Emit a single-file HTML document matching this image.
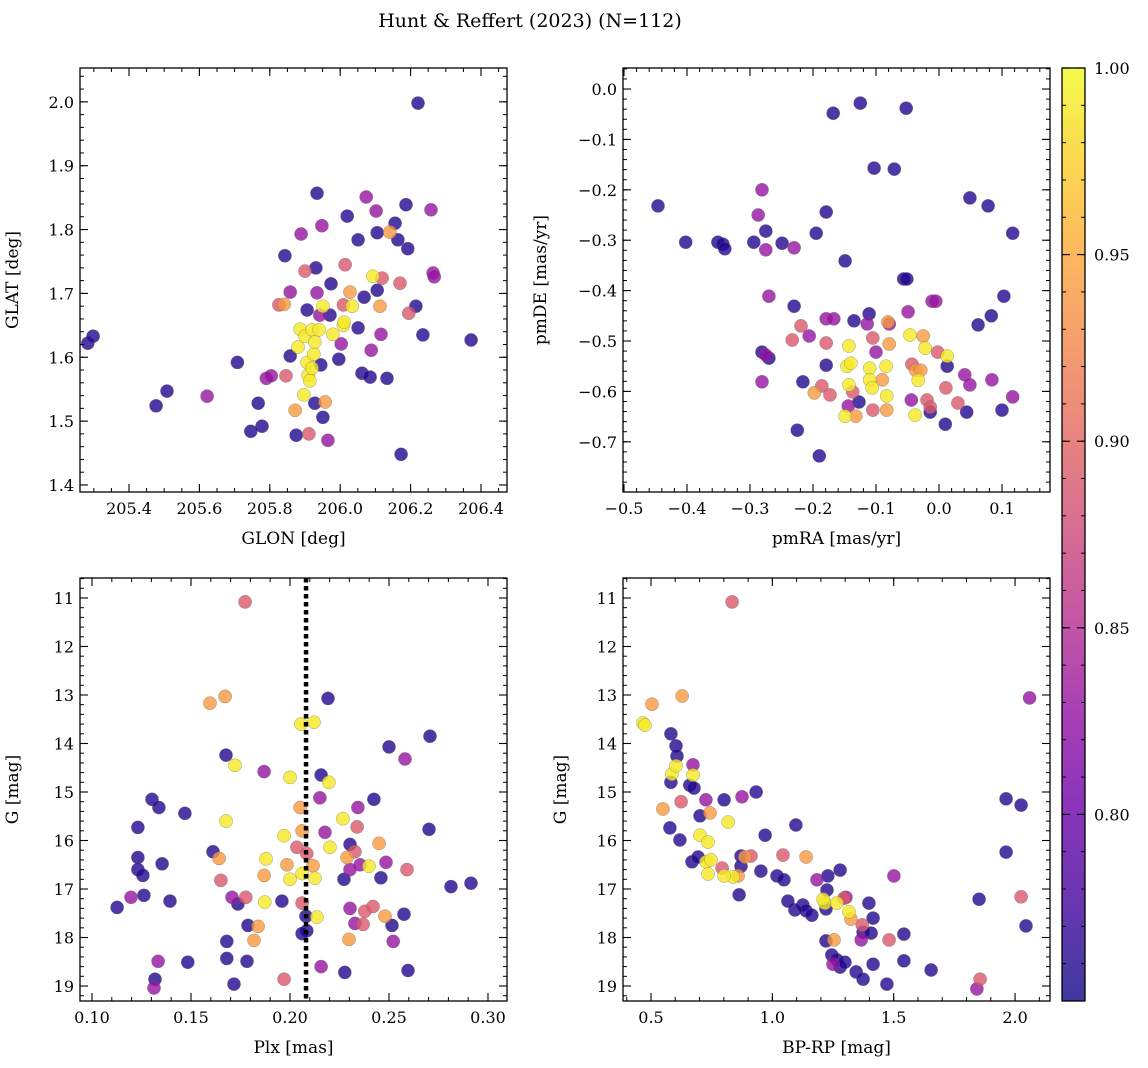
<!DOCTYPE html>
<html><head><meta charset="utf-8"><title>Hunt & Reffert (2023)</title>
<style>
html,body{margin:0;padding:0;background:#fff;}
svg{display:block;font-family:"DejaVu Serif","Liberation Serif",serif;}
</style></head>
<body>
<svg id="fig" width="1148" height="1068" viewBox="0 0 1148 1068" xmlns="http://www.w3.org/2000/svg">
<defs>
<linearGradient id="cbgrad" x1="0" y1="1" x2="0" y2="0">
<stop offset="0" stop-color="#0d0887"/><stop offset="0.1" stop-color="#41049d"/><stop offset="0.2" stop-color="#6a00a8"/><stop offset="0.3" stop-color="#8f0da4"/><stop offset="0.4" stop-color="#b12a90"/><stop offset="0.5" stop-color="#cc4778"/><stop offset="0.6" stop-color="#e16462"/><stop offset="0.7" stop-color="#f2844b"/><stop offset="0.8" stop-color="#fca636"/><stop offset="0.9" stop-color="#fcce25"/><stop offset="1" stop-color="#f0f921"/>
</linearGradient>
</defs>
<text x="530" y="27" text-anchor="middle" font-size="19">Hunt &amp; Reffert (2023) (N=112)</text>
</svg>
<script>
// Panel 1: GLON vs GLAT
const glon1=[206.221,205.283,205.298,205.477,205.508,205.622,205.708,205.746,205.767,205.778,205.790,205.804,205.843,205.826,205.841,205.846,205.858,205.858,205.872,205.875,205.880,205.886,205.889,205.897,205.900,205.906,205.900,205.906,205.909,205.914,205.920,205.911,205.920,205.925,205.928,205.928,205.931,205.934,205.934,205.940,205.942,205.945,205.951,205.957,205.951,205.965,205.948,205.971,205.974,205.979,205.996,206.009,206.011,206.020,206.003,206.009,206.014,206.028,206.034,206.051,206.051,206.062,206.068,206.074,206.085,206.088,206.093,206.102,206.105,206.105,206.113,206.116,206.119,206.133,206.141,206.156,206.164,206.173,206.170,206.187,206.192,206.195,206.215,206.235,206.258,206.264,206.267,206.372];
const glat1=[1.998,1.622,1.633,1.524,1.547,1.539,1.592,1.484,1.528,1.492,1.567,1.571,1.759,1.682,1.683,1.571,1.702,1.602,1.517,1.478,1.616,1.644,1.793,1.541,1.735,1.674,1.633,1.592,1.572,1.563,1.583,1.480,1.643,1.605,1.624,1.528,1.740,1.857,1.701,1.643,1.666,1.588,1.506,1.530,1.680,1.470,1.806,1.666,1.715,1.636,1.597,1.650,1.655,1.821,1.621,1.682,1.745,1.702,1.680,1.784,1.646,1.575,1.694,1.851,1.569,1.611,1.727,1.829,1.705,1.795,1.680,1.636,1.724,1.567,1.796,1.810,1.784,1.448,1.716,1.839,1.770,1.669,1.680,1.635,1.831,1.732,1.726,1.627];
const prob1=[.76,.76,.76,.76,.76,.83,.76,.76,.76,.76,.83,.83,.76,.89,.94,.89,.83,.76,.94,.76,.99,.99,.83,.99,.89,.76,.99,.99,.99,.99,.99,.89,.99,.99,.99,.76,.76,.76,.83,.99,.83,.76,.76,.94,.99,.83,.83,.76,.76,.99,.76,.99,.99,.76,.83,.89,.89,.94,.99,.76,.76,.76,.76,.83,.76,.83,.99,.83,.76,.76,.94,.83,.89,.76,.94,.76,.76,.76,.89,.76,.76,.89,.76,.76,.83,.83,.83,.76];
// Panel 2: pmRA vs pmDE
const pmra2=[-0.446,-0.402,-0.351,-0.343,-0.340,-0.294,-0.287,-0.281,-0.275,-0.275,-0.270,-0.249,-0.230,-0.230,-0.281,-0.275,-0.270,-0.281,-0.233,-0.219,-0.216,-0.206,-0.198,-0.225,-0.195,-0.190,-0.179,-0.179,-0.179,-0.179,-0.186,-0.173,-0.168,-0.167,-0.149,-0.146,-0.144,-0.143,-0.143,-0.149,-0.140,-0.137,-0.132,-0.127,-0.135,-0.125,-0.114,-0.111,-0.110,-0.110,-0.106,-0.103,-0.105,-0.100,-0.105,-0.081,-0.079,-0.083,-0.090,-0.084,-0.083,-0.071,-0.079,-0.052,-0.056,-0.051,-0.049,-0.046,-0.043,-0.044,-0.038,-0.033,-0.037,-0.029,-0.025,-0.022,-0.019,-0.014,-0.011,-0.005,-0.014,-0.002,0.013,0.011,0.010,0.013,0.030,0.041,0.044,0.049,0.049,0.062,0.078,0.083,0.084,0.103,0.100,0.117,0.117];
const pmde2=[-0.232,-0.304,-0.304,-0.308,-0.317,-0.304,-0.250,-0.200,-0.282,-0.319,-0.411,-0.306,-0.315,-0.431,-0.522,-0.528,-0.534,-0.581,-0.498,-0.470,-0.581,-0.490,-0.603,-0.677,-0.286,-0.728,-0.244,-0.456,-0.504,-0.548,-0.589,-0.607,-0.048,-0.456,-0.341,-0.550,-0.629,-0.510,-0.587,-0.649,-0.544,-0.601,-0.649,-0.621,-0.460,-0.028,-0.466,-0.446,-0.554,-0.577,-0.593,-0.157,-0.637,-0.522,-0.494,-0.462,-0.506,-0.637,-0.577,-0.550,-0.609,-0.159,-0.466,-0.038,-0.377,-0.377,-0.442,-0.488,-0.546,-0.617,-0.647,-0.578,-0.558,-0.558,-0.490,-0.514,-0.617,-0.631,-0.421,-0.421,-0.641,-0.522,-0.550,-0.593,-0.665,-0.530,-0.623,-0.567,-0.641,-0.587,-0.216,-0.468,-0.232,-0.450,-0.577,-0.411,-0.637,-0.286,-0.611];
const prob2=[.76,.76,.76,.76,.76,.76,.83,.83,.76,.83,.83,.76,.83,.76,.76,.83,.76,.83,.89,.89,.76,.83,.94,.76,.76,.76,.76,.83,.89,.76,.89,.89,.76,.83,.76,.99,.83,.99,.99,.99,.99,.89,.94,.76,.76,.76,.83,.76,.99,.99,.99,.76,.89,.83,.89,.94,.94,.94,.94,.99,.99,.76,.83,.76,.76,.76,.83,.99,.89,.83,.99,.99,.94,.94,.94,.99,.89,.89,.83,.83,.76,.89,.76,.89,.76,.99,.89,.83,.76,.83,.76,.76,.76,.76,.83,.76,.76,.76,.83];
// Panel 3: Plx vs G
const plx3=[0.1773,0.1596,0.1672,0.2192,0.2055,0.2121,0.1677,0.1722,0.1869,0.2000,0.2157,0.2196,0.2500,0.2581,0.2707,0.2151,0.2051,0.2267,0.2339,0.2424,0.2343,0.2702,0.1303,0.1338,0.1232,0.1469,0.1677,0.1611,0.1642,0.1651,0.1232,0.1232,0.1354,0.1257,0.1970,0.2035,0.2061,0.2085,0.2202,0.2177,0.2303,0.2328,0.2450,0.2485,0.2354,0.2399,0.2288,0.1879,0.1869,0.1985,0.2000,0.2061,0.2116,0.2126,0.2273,0.2303,0.2459,0.2591,0.2813,0.2914,0.1127,0.1197,0.1262,0.1394,0.1707,0.1737,0.1777,0.1873,0.1959,0.2061,0.2081,0.2085,0.2136,0.2303,0.2328,0.2369,0.2378,0.2419,0.2480,0.2576,0.2515,0.2521,0.2298,0.1788,0.1839,0.1818,0.1681,0.1783,0.1484,0.1334,0.1681,0.2061,0.2157,0.2277,0.2596,0.1970,0.1318,0.1313,0.1717];
const g3=[11.08,13.17,13.03,13.07,13.60,13.56,14.24,14.45,14.58,14.70,14.65,14.80,14.07,14.32,13.85,15.12,15.32,15.55,15.72,15.15,15.32,15.77,15.15,15.32,15.73,15.44,15.60,16.23,16.37,16.82,16.35,16.60,16.48,16.72,15.90,16.14,15.80,16.27,16.14,15.83,16.08,16.23,16.06,16.45,16.50,16.53,16.35,16.38,16.72,16.50,16.80,16.68,16.52,16.78,16.80,16.60,16.77,16.60,16.95,16.88,17.38,17.17,17.13,17.25,17.17,17.31,17.17,17.27,17.25,17.29,17.56,17.86,17.58,17.40,17.71,17.73,17.46,17.36,17.56,17.52,17.75,18.08,18.04,17.75,17.77,18.06,18.08,18.49,18.51,18.49,18.43,17.92,18.60,18.72,18.68,18.86,18.86,19.04,18.96];
const prob3=[.89,.94,.94,.76,.99,.99,.76,.99,.83,.99,.76,.99,.76,.83,.76,.83,.94,.99,.89,.76,.83,.76,.76,.76,.76,.76,.99,.76,.94,.89,.76,.76,.76,.76,.99,.89,.94,.89,.99,.83,.76,.89,.94,.83,.83,.99,.94,.99,.94,.94,.99,.99,.94,.99,.76,.83,.76,.89,.76,.76,.76,.83,.76,.76,.83,.76,.89,.99,.76,.89,.76,.76,.99,.83,.83,.89,.89,.89,.94,.76,.76,.83,.94,.76,.94,.94,.76,.76,.76,.83,.76,.76,.83,.76,.76,.89,.76,.83,.76];
const plxLine=0.2081;
// Panel 4: BP-RP vs G
const bprp4=[0.467,0.475,0.504,0.628,0.834,2.060,0.582,0.603,0.607,0.586,0.603,0.673,0.673,0.660,0.582,0.677,0.624,0.549,0.578,0.619,0.726,0.702,0.743,0.801,0.875,0.933,0.818,0.702,0.735,0.970,1.097,0.669,0.694,0.727,0.747,0.735,0.793,0.838,0.859,0.871,0.887,0.912,0.801,0.871,0.863,1.044,0.953,1.019,1.048,1.139,1.229,1.279,1.184,1.225,1.217,1.209,1.295,1.266,1.303,1.316,1.324,1.398,1.501,1.415,1.370,1.366,1.374,1.407,1.126,1.139,1.163,1.093,1.064,1.221,1.221,1.254,1.245,1.250,1.266,1.279,1.299,1.415,1.345,1.374,1.472,1.481,1.542,1.542,1.654,1.843,1.856,1.852,1.963,2.025,1.963,2.025,2.045];
const g4=[13.58,13.62,13.19,13.02,11.08,13.06,13.80,14.05,14.26,14.63,14.46,14.44,14.65,14.86,14.80,14.92,15.20,15.35,15.74,15.99,15.16,15.49,15.43,15.16,15.10,15.00,15.62,15.89,16.03,15.89,15.68,16.44,16.34,16.44,16.40,16.69,16.57,16.75,16.73,16.32,16.34,16.32,16.73,16.53,17.12,16.30,16.63,16.73,16.81,16.34,16.73,16.61,16.81,17.02,17.29,17.21,17.19,17.29,17.17,17.47,17.62,17.29,16.73,17.60,17.74,18.05,17.89,17.91,17.33,17.45,17.54,17.43,17.25,17.41,18.07,18.05,18.36,18.55,18.46,18.61,18.51,18.55,18.71,18.86,18.96,18.05,17.93,18.48,18.67,19.06,18.86,17.21,15.14,15.27,16.24,17.16,17.76];
const prob4=[.99,.99,.94,.94,.89,.83,.76,.76,.76,.99,.99,.83,.99,.76,.76,.76,.89,.94,.76,.76,.83,.76,.94,.76,.83,.76,.99,.99,.99,.76,.76,.76,.76,.99,.99,.99,.89,.99,.94,.76,.94,.89,.99,.76,.76,.89,.76,.76,.76,.94,.76,.76,.83,.76,.99,.99,.89,.99,.83,.99,.94,.76,.83,.76,.89,.83,.76,.76,.76,.76,.76,.76,.76,.76,.76,.94,.76,.83,.76,.76,.76,.76,.76,.76,.76,.89,.76,.76,.76,.83,.89,.76,.76,.76,.76,.89,.76];

const cbMin=0.75, cbMax=1.0;
const cbTicks=[0.80,0.85,0.90,0.95,1.00];

const NS='http://www.w3.org/2000/svg';
const svg=document.getElementById('fig');
function mk(tag,attrs,parent){const e=document.createElementNS(NS,tag);for(const k in attrs)e.setAttribute(k,attrs[k]);(parent||svg).appendChild(e);return e;}
const stops=[[0,[13,8,135]],[0.1,[65,4,157]],[0.2,[106,0,168]],[0.3,[143,13,164]],[0.4,[177,42,144]],[0.5,[204,71,120]],[0.6,[225,100,98]],[0.7,[242,132,75]],[0.8,[252,166,54]],[0.9,[252,206,37]],[1,[240,249,33]]];
function plasma(v){let t=(v-cbMin)/(cbMax-cbMin);t=Math.max(0,Math.min(1,t));for(let i=1;i<stops.length;i++){if(t<=stops[i][0]){const a=stops[i-1],b=stops[i];const f=(t-a[0])/(b[0]-a[0]);const c=a[1].map((x,j)=>Math.round(x+(b[1][j]-x)*f));return 'rgb('+c.join(',')+')';}}return 'rgb(240,249,33)';}
function fmt(v,d){const s=Math.abs(v).toFixed(d);return (v<-1e-9?'\u2212':'')+s;}

const panels=[
 {name:'glon-glat',box:[80,68,507,492],xd:[205.2608,206.4739],yd:[1.389,2.053],xt:[205.4,206.4,0.2],xm:0.05,yt:[1.4,2.0,0.1],ym:0.02,xf:1,yf:1,xl:'GLON [deg]',yl:'GLAT [deg]',ylx:18,xs:glon1,ys:glat1,cs:prob1},
 {name:'pmra-pmde',box:[623,68,1050,492],xd:[-0.5016,0.1762],yd:[-0.7996,0.0417],xt:[-0.5,0.1,0.1],xm:0.02,yt:[-0.7,0.0,0.1],ym:0.02,xf:1,yf:1,xl:'pmRA [mas/yr]',yl:'pmDE [mas/yr]',ylx:546,xs:pmra2,ys:pmde2,cs:prob2},
 {name:'plx-g',box:[80,578,507,1001],xd:[0.09394,0.30960],yd:[19.309,10.588],xt:[0.10,0.30,0.05],xm:0.01,yt:[11,19,1],ym:0.2,xf:2,yf:0,xl:'Plx [mas]',yl:'G [mag]',ylx:18,xs:plx3,ys:g3,cs:prob3,vline:plxLine},
 {name:'bprp-g',box:[623,578,1050,1001],xd:[0.3846,2.144],yd:[19.309,10.588],xt:[0.5,2.0,0.5],xm:0.1,yt:[11,19,1],ym:0.2,xf:1,yf:0,xl:'BP-RP [mag]',yl:'G [mag]',ylx:566,xs:bprp4,ys:g4,cs:prob4}
];

panels.forEach(p=>{
 const [L,T,R,B]=p.box;
 const sx=v=>L+(v-p.xd[0])/(p.xd[1]-p.xd[0])*(R-L);
 const sy=v=>B-(v-p.yd[0])/(p.yd[1]-p.yd[0])*(B-T);
 const g=mk('g',{});
 
 
 const clipId='clip-'+p.name;
 const cp=mk('clipPath',{id:clipId},g);mk('rect',{x:L,y:T,width:R-L,height:B-T},cp);
 const pts=mk('g',{'clip-path':'url(#'+clipId+')'},g);
 
 
 const idx=p.xs.map((_,i)=>i).sort((a,b)=>p.cs[a]-p.cs[b]);
 idx.forEach(i=>{
  const c=mk('circle',{cx:sx(p.xs[i]).toFixed(1),cy:sy(p.ys[i]).toFixed(1),r:6.6,fill:plasma(p.cs[i]),'fill-opacity':0.8,stroke:'#666','stroke-width':0.5,'stroke-opacity':0.6},pts);
  
  
 });
 if(p.vline!==undefined){
  const ln=mk('line',{x1:sx(p.vline),x2:sx(p.vline),y1:T,y2:B,stroke:'#000','stroke-width':4.5,'stroke-dasharray':'4.5,3.5'},g);
  
  
 }
 const eps=1e-9;
 const step=p.xm;
 for(let v=Math.ceil(p.xd[0]/step-eps)*step; v<=p.xd[1]+eps; v+=step){const x=sx(v);mk('line',{x1:x,x2:x,y1:B,y2:B-4,stroke:'#000','stroke-width':1},g);mk('line',{x1:x,x2:x,y1:T,y2:T+4,stroke:'#000','stroke-width':1},g);}
 const lo=Math.min(p.yd[0],p.yd[1]),hi=Math.max(p.yd[0],p.yd[1]);
 for(let v=Math.ceil(lo/p.ym-eps)*p.ym; v<=hi+eps; v+=p.ym){const y=sy(v);mk('line',{x1:L,x2:L+4,y1:y,y2:y,stroke:'#000','stroke-width':1},g);mk('line',{x1:R,x2:R-4,y1:y,y2:y,stroke:'#000','stroke-width':1},g);}
 const nx=Math.round((p.xt[1]-p.xt[0])/p.xt[2]);
 for(let k=0;k<=nx;k++){const v=p.xt[0]+k*p.xt[2];const x=sx(v);
  mk('line',{x1:x,x2:x,y1:B,y2:B-8,stroke:'#000','stroke-width':1.1},g);mk('line',{x1:x,x2:x,y1:T,y2:T+8,stroke:'#000','stroke-width':1.1},g);
  const t=mk('text',{x:x,y:B+22,'text-anchor':'middle','font-size':16},g);t.textContent=fmt(v,p.xf);
  
  }
 const ny=Math.round((p.yt[1]-p.yt[0])/p.yt[2]);
 for(let k=0;k<=ny;k++){const v=p.yt[0]+k*p.yt[2];const y=sy(v);
  mk('line',{x1:L,x2:L+8,y1:y,y2:y,stroke:'#000','stroke-width':1.1},g);mk('line',{x1:R,x2:R-8,y1:y,y2:y,stroke:'#000','stroke-width':1.1},g);
  const t=mk('text',{x:L-6,y:y+6,'text-anchor':'end','font-size':16},g);t.textContent=fmt(v,p.yf);
  
  }
 mk('rect',{x:L,y:T,width:R-L,height:B-T,fill:'none',stroke:'#000','stroke-width':1.3},g);
 const xl=mk('text',{x:(L+R)/2,y:B+52,'text-anchor':'middle','font-size':17},g);xl.textContent=p.xl;
 
 
 const yy=(T+B)/2;
 const yl=mk('text',{x:p.ylx,y:yy,'text-anchor':'middle','font-size':17,transform:'rotate(-90 '+p.ylx+' '+yy+')'},g);yl.textContent=p.yl;
 
 
});

(function(){
 const L=1062,R=1085,T=68,B=1001;
 const g=mk('g',{});
 
 
 mk('rect',{x:L,y:T,width:R-L,height:B-T,fill:'url(#cbgrad)','fill-opacity':0.8},g);
 const sy=v=>B-(v-cbMin)/(cbMax-cbMin)*(B-T);
 for(let v=0.76;v<=1.0001;v+=0.01){const y=sy(v);mk('line',{x1:R,x2:R-4,y1:y,y2:y,stroke:'#000','stroke-width':1},g);mk('line',{x1:L,x2:L+4,y1:y,y2:y,stroke:'#000','stroke-width':1},g);}
 cbTicks.forEach(v=>{const y=sy(v);
  mk('line',{x1:R,x2:R-8,y1:y,y2:y,stroke:'#000','stroke-width':1.1},g);mk('line',{x1:L,x2:L+8,y1:y,y2:y,stroke:'#000','stroke-width':1.1},g);
  const t=mk('text',{x:R+9,y:y+6,'font-size':16},g);t.textContent=v.toFixed(2);
  
  });
 mk('rect',{x:L,y:T,width:R-L,height:B-T,fill:'none',stroke:'#000','stroke-width':1.3},g);
})();
</script>
</body></html>
